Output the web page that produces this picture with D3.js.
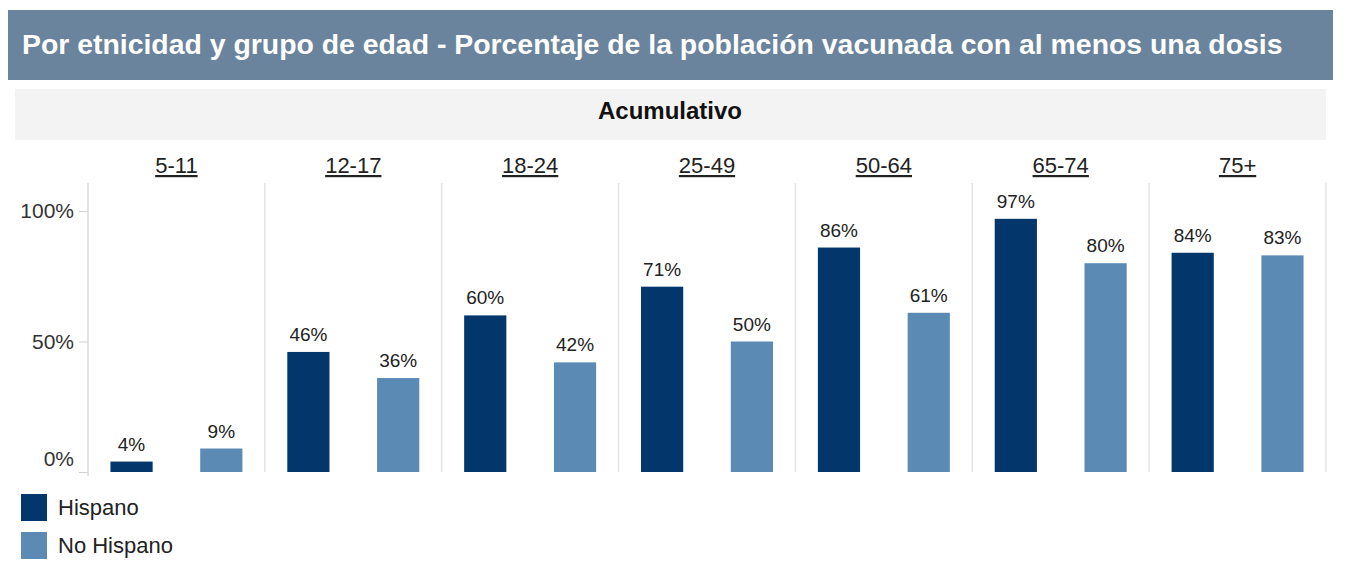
<!DOCTYPE html>
<html lang="es">
<head>
<meta charset="utf-8">
<title>Porcentaje vacunado por etnicidad y edad</title>
<script src="https://d3js.org/d3.v7.min.js"></script>
<style>
    body { margin: 0; background: #fff; font-family: "Liberation Sans", Arial, sans-serif; }
    svg text { font-family: "Liberation Sans", Arial, sans-serif; }
</style>
</head>
<body>
<div id="chart"></div>
<script>
    var ageGroups = ["5-11", "12-17", "18-24", "25-49", "50-64", "65-74", "75+"];
    var series = ["Hispano", "No Hispano"];
    var hispano = [4, 46, 60, 71, 86, 97, 84];
    var noHispano = [9, 36, 42, 50, 61, 80, 83];
    var yTicks = [0, 50, 100];
    var colors = ["#03366a", "#5b8bb5"];

    var width = 1346, height = 571;
    var svg = d3.select("#chart").append("svg")
        .attr("width", width)
        .attr("height", height);

    // title bar
    svg.append("rect")
        .attr("x", 8).attr("y", 10)
        .attr("width", 1325).attr("height", 70)
        .attr("fill", "#6b849e");
    svg.append("text")
        .attr("x", 22).attr("y", 54)
        .attr("fill", "#fff")
        .attr("font-size", 28.4)
        .attr("font-weight", "bold")
        .text("Por etnicidad y grupo de edad - Porcentaje de la población vacunada con al menos una dosis");

    // sub header band
    svg.append("rect")
        .attr("x", 15).attr("y", 89)
        .attr("width", 1311).attr("height", 51)
        .attr("fill", "#f3f3f3");
    svg.append("text")
        .attr("x", 670).attr("y", 119)
        .attr("text-anchor", "middle")
        .attr("font-size", 24)
        .attr("font-weight", "bold")
        .attr("fill", "#111")
        .text("Acumulativo");

    var plotL = 88, plotR = 1326, plotT = 183, plotB = 472;

    var x = d3.scaleBand()
        .domain(ageGroups)
        .range([plotL, plotR]);

    var xSub = d3.scaleBand()
        .domain(series)
        .range([0, x.bandwidth()])
        .paddingInner(0.53)
        .paddingOuter(0.25);

    var y = d3.scaleLinear()
        .domain([0, 100])
        .range([plotB, 211]);

    // panel separators
    svg.append("g").selectAll("line")
        .data(ageGroups)
        .enter().append("line")
        .attr("x1", function(d){ return x(d) + x.step(); })
        .attr("x2", function(d){ return x(d) + x.step(); })
        .attr("y1", plotT).attr("y2", plotB)
        .attr("stroke", "#e4e4e4")
        .attr("stroke-width", 1.5);

    // panel headers
    svg.append("g").selectAll("text")
        .data(ageGroups)
        .enter().append("text")
        .attr("x", function(d){ return x(d) + x.bandwidth() / 2; })
        .attr("y", 173)
        .attr("text-anchor", "middle")
        .attr("font-size", 22)
        .attr("fill", "#222")
        .attr("text-decoration", "underline")
        .text(function(d){ return d; });

    // y axis
    var yAxis = d3.axisLeft(y)
        .tickValues(yTicks)
        .tickSize(9)
        .tickPadding(5)
        .tickFormat(function(d){ return d + "%"; });
    var ga = svg.append("g")
        .attr("transform", "translate(" + plotL + ",0)")
        .call(yAxis);
    ga.select(".domain").remove();
    ga.append("line")
        .attr("x1", 0).attr("x2", 0)
        .attr("y1", plotT).attr("y2", plotB + 4)
        .attr("stroke", "#d9d9d9").attr("stroke-width", 1.5);
    ga.selectAll(".tick line").attr("stroke", "#cfcfcf");
    ga.selectAll(".tick text")
        .attr("font-size", 21)
        .attr("fill", "#333")
        .attr("font-family", "Liberation Sans, Arial, sans-serif");
    // the 0% label sits just above its tick
    ga.selectAll(".tick text")
        .filter(function(d){ return d === 0; })
        .attr("dy", "-0.3em");

    // bars
    var rows = [];
    ageGroups.forEach(function(g, i){
        rows.push({ group: g, s: series[0], v: hispano[i] });
        rows.push({ group: g, s: series[1], v: noHispano[i] });
    });

    var bars = svg.append("g");
    bars.selectAll("rect")
        .data(rows)
        .enter().append("rect")
        .attr("x", function(d){ return x(d.group) + xSub(d.s); })
        .attr("y", function(d){ return y(d.v); })
        .attr("width", xSub.bandwidth())
        .attr("height", function(d){ return y(0) - y(d.v); })
        .attr("fill", function(d){ return d.s === series[0] ? colors[0] : colors[1]; });

    bars.selectAll("text")
        .data(rows)
        .enter().append("text")
        .attr("x", function(d){ return x(d.group) + xSub(d.s) + xSub.bandwidth() / 2; })
        .attr("y", function(d){ return y(d.v) - 11; })
        .attr("text-anchor", "middle")
        .attr("font-size", 19)
        .attr("fill", "#222")
        .text(function(d){ return d.v + "%"; });

    // legend
    var legend = svg.append("g").selectAll("g")
        .data(series)
        .enter().append("g")
        .attr("transform", function(d, i){ return "translate(21," + (494 + i * 38) + ")"; });
    legend.append("rect")
        .attr("width", 26).attr("height", 27)
        .attr("fill", function(d, i){ return colors[i]; });
    legend.append("text")
        .attr("x", 37).attr("y", 21)
        .attr("font-size", 22)
        .attr("fill", "#222")
        .text(function(d){ return d; });
</script>
</body>
</html>
